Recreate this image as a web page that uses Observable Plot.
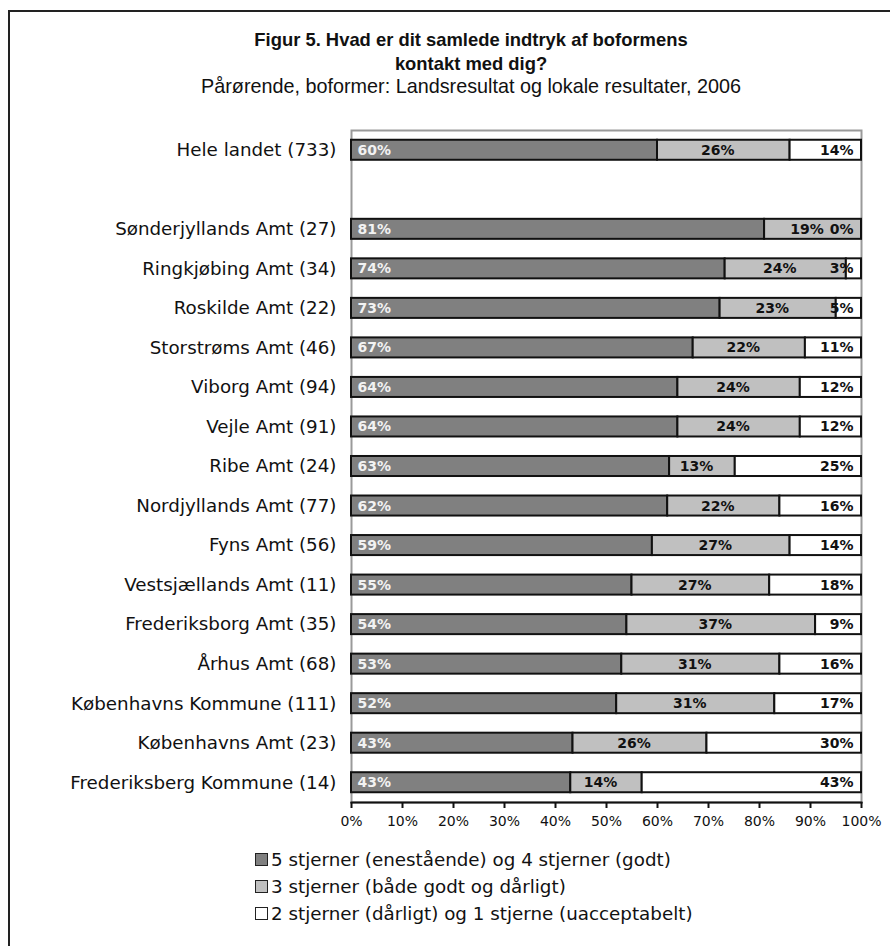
<!DOCTYPE html>
<html>
<head>
<meta charset="utf-8">
<script src="https://cdn.jsdelivr.net/npm/d3@7"></script>
<script src="https://cdn.jsdelivr.net/npm/@observablehq/plot@0.6"></script>
<style>
  html, body { margin: 0; padding: 0; background: #fff; }
  #page { position: relative; width: 890px; height: 946px; overflow: hidden; background: #fff; }
  #border { position: absolute; left: 8px; top: 10px; width: 900px; height: 960px; border-left: 2px solid #222; border-top: 2px solid #222; }
  .title { position: absolute; left: 100px; width: 742px; text-align: center; font-family: "Liberation Sans", Arial, sans-serif; color: #111; white-space: nowrap; line-height: 1; }
  .t1 { font-weight: bold; font-size: 18.4px; }
  .t2 { font-size: 19.8px; }
  #chart { position: absolute; left: 0; top: 100px; }
  #legend { position: absolute; left: 255px; top: 846px; font-family: "DejaVu Sans", sans-serif; font-size: 18.3px; color: #111; }
  .item { height: 27px; display: flex; align-items: center; white-space: nowrap; }
  .sw { width: 11px; height: 11px; border: 1.5px solid #222; margin-right: 3px; box-sizing: content-box; }
</style>
</head>
<body>
<div id="page">
  <div id="border"></div>
  <div class="title t1" style="top:31px">Figur 5. Hvad er dit samlede indtryk af boformens</div>
  <div class="title t1" style="top:55px">kontakt med dig?</div>
  <div class="title t2" style="top:77px">Pårørende, boformer: Landsresultat og lokale resultater, 2006</div>
  <div id="chart"></div>
  <div id="legend"></div>
</div>
<script>
const categories = [
  "Hele landet (733)",
  "Sønderjyllands Amt (27)",
  "Ringkjøbing Amt (34)",
  "Roskilde Amt (22)",
  "Storstrøms Amt (46)",
  "Viborg Amt (94)",
  "Vejle Amt (91)",
  "Ribe Amt (24)",
  "Nordjyllands Amt (77)",
  "Fyns Amt (56)",
  "Vestsjællands Amt (11)",
  "Frederiksborg Amt (35)",
  "Århus Amt (68)",
  "Københavns Kommune (111)",
  "Københavns Amt (23)",
  "Frederiksberg Kommune (14)"
];
const seriesNames = [
  "5 stjerner (enestående) og 4 stjerner (godt)",
  "3 stjerner (både godt og dårligt)",
  "2 stjerner (dårligt) og 1 stjerne (uacceptabelt)"
];
const seriesColors = ["#808080", "#c0c0c0", "#ffffff"];
const good  = [60, 81, 74, 73, 67, 64, 64, 63, 62, 59, 55, 54, 53, 52, 43, 43];
const mixed = [26, 19, 24, 23, 22, 24, 24, 13, 22, 27, 27, 37, 31, 31, 26, 14];
const bad   = [14,  0,  3,  5, 11, 12, 12, 25, 16, 14, 18,  9, 16, 17, 30, 43];
const xTicks = [0, 0.1, 0.2, 0.3, 0.4, 0.5, 0.6, 0.7, 0.8, 0.9, 1];

// y domain with an empty band after the national result
const yDomain = [categories[0], " ", ...categories.slice(1)];

// Build stacked table (normalized to 100%)
const table = [];
categories.forEach((c, i) => {
  const vals = [good[i], mixed[i], bad[i]];
  const total = vals[0] + vals[1] + vals[2];
  let acc = 0;
  vals.forEach((v, s) => {
    const x1 = acc / total;
    acc += v;
    const x2 = acc / total;
    table.push({cat: c, series: seriesNames[s], idx: s, value: v, x1, x2, xm: (x1 + x2) / 2});
  });
});

const lab = d => d.value + "%";
const FONT = "DejaVu Sans, sans-serif";

const chart = Plot.plot({
  width: 890,
  height: 742,
  marginTop: 30,
  marginBottom: 40,
  marginLeft: 351,
  marginRight: 29,
  style: {fontFamily: FONT, fontSize: "18.3px", color: "#111", background: "transparent"},
  x: {domain: [0, 1], axis: null},
  y: {domain: yDomain, padding: 0, round: false, axis: null},
  color: {domain: seriesNames, range: seriesColors},
  marks: [
    Plot.frame({stroke: "#9a9a9a", strokeWidth: 2}),
    Plot.barX(table, {x1: "x1", x2: "x2", y: "cat", fill: "series", stroke: "#111", strokeWidth: 2, insetTop: 9.75, insetBottom: 9.75}),
    Plot.text(table.filter(d => d.idx === 0), {x: "x1", y: "cat", text: lab, textAnchor: "start", dx: 6, fill: "#f2f2f2", fontWeight: "bold", fontSize: 14, fontFamily: FONT}),
    Plot.text(table.filter(d => d.idx === 1), {x: "xm", y: "cat", text: lab, textAnchor: "middle", dx: -6, fill: "#111", fontWeight: "bold", fontSize: 14, fontFamily: FONT}),
    Plot.text(table.filter(d => d.idx === 2), {x: "x2", y: "cat", text: lab, textAnchor: "end", dx: -8, fill: "#111", fontWeight: "bold", fontSize: 14, fontFamily: FONT}),
    Plot.axisY({tickSize: 0, tickPadding: 15, fontSize: 18.3, fill: "#111", label: null, tickFormat: d => d.trim()}),
    Plot.frame({anchor: "bottom", stroke: "#111", strokeWidth: 2}),
    Plot.axisX({ticks: xTicks, tickSize: 6, stroke: "#111", strokeWidth: 2, tickPadding: 8, fontSize: 14, fill: "#111", label: null, tickFormat: d => Math.round(d * 100) + "%"})
  ]
});
document.getElementById("chart").appendChild(chart);

const legend = document.getElementById("legend");
seriesNames.forEach((name, i) => {
  const item = document.createElement("div");
  item.className = "item";
  const sw = document.createElement("span");
  sw.className = "sw";
  sw.style.background = seriesColors[i];
  const t = document.createElement("span");
  t.textContent = name;
  item.appendChild(sw);
  item.appendChild(t);
  legend.appendChild(item);
});
</script>
</body>
</html>
